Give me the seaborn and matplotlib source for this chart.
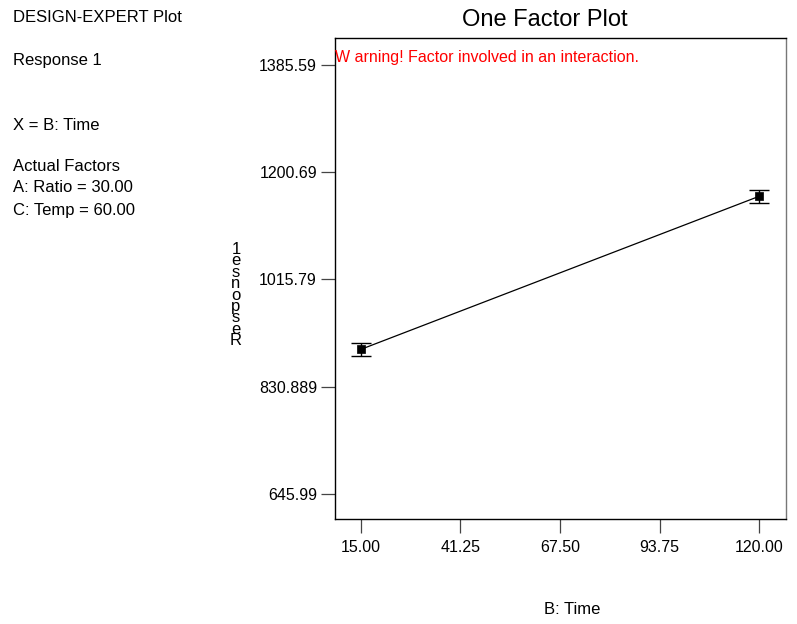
import matplotlib
matplotlib.use("Agg")
import matplotlib.pyplot as plt
import seaborn as sns
import pandas as pd

# Data
time_levels = [15.0, 120.0]
response = [895.2, 1159.3]
ci_half = [11.5, 11.2]
x_ticks = [15.00, 41.25, 67.50, 93.75, 120.00]
x_tick_labels = ["15.00", "41.25", "67.50", "93.75", "120.00"]
y_ticks = [645.99, 830.889, 1015.79, 1200.69, 1385.59]
y_tick_labels = ["645.99", "830.889", "1015.79", "1200.69", "1385.59"]

sns.set_style("white")
plt.rcParams['font.family'] = ['Liberation Sans', 'DejaVu Sans']
plt.rcParams['text.color'] = 'black'

fig = plt.figure(figsize=(7.97, 6.24), dpi=100)
ax = fig.add_axes([335/797, 1-519/624, (786-335)/797, (519-38)/624])

df = pd.DataFrame({"Time": time_levels, "Response": response})
sns.lineplot(data=df, x="Time", y="Response", ax=ax, color="black", linewidth=0.9)
ax.errorbar(time_levels, response, yerr=ci_half, fmt="none", ecolor="black",
            elinewidth=1.0, capsize=7.5, capthick=1.0)
sns.scatterplot(data=df, x="Time", y="Response", ax=ax, marker="s", s=40,
                color="black", edgecolor="black", zorder=5)

ax.set_xlim(8.23, 127.03)
ax.set_ylim(602.9, 1432.1)
ax.set_xticks(x_ticks)
ax.set_xticklabels(x_tick_labels)
ax.set_yticks(y_ticks)
ax.set_yticklabels(y_tick_labels)
ax.tick_params(axis="both", which="major", direction="out", length=10, width=0.9,
               color="#444444", labelcolor="black", labelsize=11.5,
               bottom=True, left=True, top=False, right=False)
ax.tick_params(axis="x", pad=5)
ax.tick_params(axis="y", pad=3)
for side, sp in ax.spines.items():
    sp.set_visible(True)
    sp.set_linewidth(1.0)
    sp.set_color("black")
ax.spines["right"].set_color("#777777")
ax.set_xlabel("")
ax.set_ylabel("")

ax.text(0.0, 0.96, "W arning! Factor involved in an interaction.", transform=ax.transAxes,
        color="red", fontsize=11.5, ha="left", va="center")

fig.text(545/797, 1-20/624, "One Factor Plot", fontsize=17, ha="center", va="center")
fig.text(572/797, 1-609/624, "B: Time", fontsize=12, ha="center", va="center")

fig.text(236/797, 1-295/624, "1\ne\ns\nn\no\np\ns\ne\nR", fontsize=12, ha="center",
         va="center", linespacing=0.7)

left_lines = [("DESIGN-EXPERT Plot", 18), ("Response 1", 60), ("X = B: Time", 125),
              ("Actual Factors", 167), ("A: Ratio = 30.00", 188), ("C: Temp = 60.00", 211)]
for txt, yy in left_lines:
    fig.text(13/797, 1-yy/624, txt, fontsize=12, ha="left", va="center")

fig.savefig("out.png", dpi=100)
